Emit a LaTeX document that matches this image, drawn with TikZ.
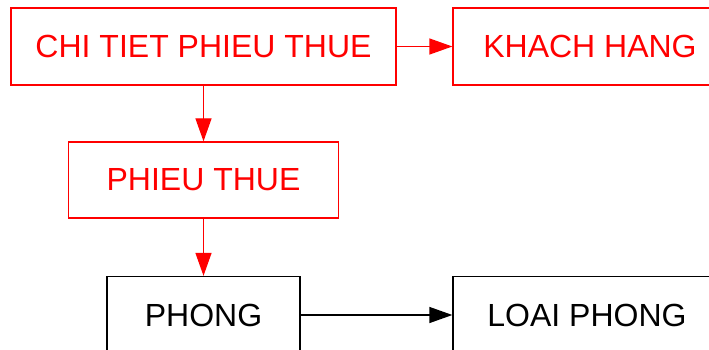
\documentclass[tikz,border=0pt]{standalone}
\usepackage{fontspec}
\setmainfont{Liberation Sans}
\usetikzlibrary{arrows.meta}

\begin{document}
\begin{tikzpicture}[x=1pt, y=1pt,
    every node/.style={font=\fontsize{32}{38}\selectfont},
    tbl/.style={draw, line width=1.3pt, inner sep=0pt, minimum height=77pt},
    link/.style={line width=1.3pt, -{Triangle[length=23pt, width=16pt]}}]
    \useasboundingbox (0,0) rectangle (709,-350);
    \clip (0,0) rectangle (709,-350);

    % tables touched by the rental
    \node[tbl, red, minimum width=385pt] (ctpt) at (203.5,-46.5) {CHI TIET PHIEU THUE};
    \node[tbl, red, minimum width=274pt] (kh) at (590,-46.5) {KHACH HANG};
    \node[tbl, red, minimum width=270pt, minimum height=76pt] (pt) at (203.5,-180) {PHIEU THUE};
    \draw[link, red] (ctpt) -- (kh);
    \draw[link, red] (ctpt) -- (pt);

    % room side
    \node[tbl, minimum width=193pt] (phong) at (203.5,-315) {PHONG};
    \node[tbl, minimum width=268pt] (lp) at (587,-315) {LOAI PHONG};
    \draw[link, red] (pt) -- (phong);
    \draw[link] (phong) -- (lp);
\end{tikzpicture}
\end{document}
